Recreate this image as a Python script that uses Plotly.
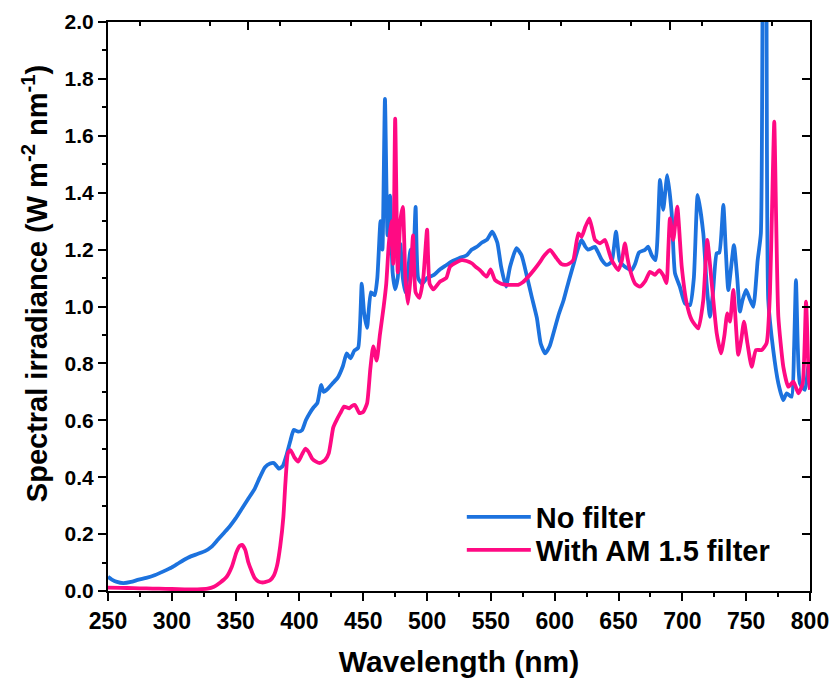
import plotly.graph_objects as go

# ---- data ----
nf_nm = [250, 253, 257, 262, 268, 274, 280, 287, 293, 300, 306, 313, 320, 326, 331, 336, 341, 345,
         350, 355, 360, 365, 369, 373, 377, 380, 384, 387, 390, 393, 395.5, 399, 402, 405, 408, 411,
         414, 417, 419, 422, 426, 430, 434, 437, 440, 443, 446, 448.8, 450.6, 453, 456, 459, 461,
         463.5, 465, 467, 469, 471, 473, 475, 477, 479, 481, 483, 485, 487, 489, 491, 493, 496, 500,
         505, 510, 515, 520, 525, 531, 535, 539, 543, 547, 551, 555, 558, 561.8, 565, 570, 574, 578,
         582, 586, 589, 592.5, 596, 599, 603, 607, 611, 615, 618, 621, 624, 626, 629, 631.5, 634, 637,
         640.7, 644.6, 648, 651, 655, 660.3, 663, 666, 670.7, 673.3, 676, 679, 682.5, 685, 688.2,
         691.6, 694.2, 698, 702, 706, 709, 712, 716.4, 719, 721.6, 724, 726.9, 729, 732.1, 734, 736,
         740.4, 743, 745.1, 747, 749.9, 752.5, 755.6, 759, 761.5, 763.5, 765.5, 767.3, 771.2, 775.2,
         779, 781.7, 785.6, 787.5, 789, 790.5, 792.1, 796.1, 798.7, 800]
nf_val = [0.05, 0.04, 0.032, 0.028, 0.032, 0.040, 0.046, 0.056, 0.068, 0.083, 0.10, 0.118, 0.13, 0.14,
          0.155, 0.18, 0.205, 0.225, 0.255, 0.29, 0.325, 0.36, 0.40, 0.435, 0.448, 0.45, 0.43, 0.44,
          0.48, 0.53, 0.566, 0.56, 0.565, 0.60, 0.625, 0.645, 0.66, 0.724, 0.70, 0.71, 0.73, 0.75, 0.79,
          0.835, 0.818, 0.845, 0.855, 1.08, 0.98, 0.925, 1.05, 1.04, 1.10, 1.30, 1.20, 1.73, 1.25, 1.39,
          1.12, 1.06, 1.10, 1.22, 1.10, 1.05, 1.12, 1.20, 1.15, 1.35, 1.10, 1.08, 1.10, 1.11, 1.13,
          1.145, 1.16, 1.17, 1.18, 1.20, 1.21, 1.225, 1.235, 1.263, 1.225, 1.14, 1.07, 1.14, 1.205,
          1.18, 1.11, 1.034, 0.96, 0.87, 0.835, 0.86, 0.906, 0.97, 1.023, 1.09, 1.152, 1.20, 1.234,
          1.21, 1.20, 1.205, 1.21, 1.19, 1.163, 1.146, 1.157, 1.263, 1.16, 1.14, 1.128, 1.15, 1.19,
          1.199, 1.21, 1.18, 1.163, 1.445, 1.34, 1.462, 1.33, 1.117, 1.07, 1.011, 1.005, 1.10, 1.392,
          1.257, 1.08, 0.964, 1.05, 1.187, 1.19, 1.357, 1.2, 1.058, 1.216, 1.10, 0.982, 1.02, 1.058,
          1.03, 0.999, 1.163, 1.257, 2.6, 2.4, 1.023, 0.847, 0.73, 0.671, 0.695, 0.683, 0.85, 1.093,
          0.85, 0.73, 0.707, 0.788, 0.80]

am_nm = [250, 260, 270, 280, 290, 300, 310, 320, 328, 333, 338, 343, 347, 350.5, 353, 355, 357.5, 360,
         362.5, 365, 368, 372, 377, 380, 382.5, 385, 387.4, 389, 391, 393, 396, 399, 402, 404.5, 407,
         410, 413, 416, 420, 423, 426.5, 429, 432, 435, 439, 441, 443.5, 447, 450, 453, 455.5, 457.8,
         460.5, 463, 466, 468, 470, 472, 473.5, 475, 477, 479, 481, 483, 485, 487, 489, 491, 494, 497,
         500, 502, 505, 510, 515, 518, 523, 527, 531, 535, 538, 541.4, 544, 546.7, 549.8, 553.2, 558,
         562.4, 567, 571.4, 575, 579.3, 584, 588.5, 592, 596.3, 601.5, 605, 608, 611, 614.5, 618.5,
         621.1, 624, 627.1, 629.5, 631.5, 635.5, 639.4, 642, 644.6, 649.8, 652.5, 655, 657, 659, 663,
         666.8, 671, 674.6, 678.5, 681.9, 685, 687.6, 689, 690.3, 692.9, 696, 699.5, 703.4, 707.3,
         712.5, 716.4, 719.5, 723, 726.9, 730.3, 733, 735.2, 737.3, 739.9, 743.8, 746, 748.3, 751,
         754.3, 757.7, 762.1, 766, 768.6, 770.3, 772, 773.5, 775.2, 779.1, 783, 787, 790.9, 794.3,
         796.9, 799, 800]
am_val = [0.012, 0.011, 0.010, 0.009, 0.008, 0.007, 0.006, 0.006, 0.008, 0.015, 0.03, 0.05, 0.085,
          0.135, 0.158, 0.162, 0.145, 0.10, 0.07, 0.045, 0.033, 0.03, 0.038, 0.055, 0.09, 0.16, 0.26,
          0.38, 0.485, 0.495, 0.47, 0.455, 0.48, 0.50, 0.49, 0.465, 0.455, 0.45, 0.46, 0.485, 0.575,
          0.60, 0.625, 0.648, 0.642, 0.65, 0.654, 0.625, 0.63, 0.66, 0.78, 0.86, 0.81, 0.90, 1.0, 1.08,
          1.22, 1.30, 1.15, 1.66, 1.12, 1.30, 1.35, 1.10, 1.01, 1.10, 1.25, 1.05, 1.03, 1.10, 1.27,
          1.08, 1.06, 1.087, 1.10, 1.14, 1.155, 1.163, 1.16, 1.152, 1.14, 1.128, 1.115, 1.105, 1.13,
          1.093, 1.08, 1.076, 1.076, 1.076, 1.085, 1.105, 1.13, 1.157, 1.18, 1.199, 1.169, 1.15, 1.146,
          1.15, 1.163, 1.257, 1.245, 1.28, 1.31, 1.27, 1.234, 1.222, 1.234, 1.2, 1.163, 1.128, 1.16,
          1.222, 1.17, 1.128, 1.08, 1.07, 1.09, 1.122, 1.111, 1.128, 1.11, 1.082, 1.2, 1.31, 1.234,
          1.351, 1.14, 1.011, 0.953, 0.923, 1.023, 1.234, 1.082, 0.906, 0.835, 0.9, 0.976, 0.947,
          1.058, 0.83, 0.88, 0.947, 0.87, 0.788, 0.847, 0.847, 0.871, 1.046, 1.35, 1.65, 1.3, 0.964,
          0.788, 0.718, 0.736, 0.695, 0.73, 1.017, 0.75, 0.707]

series_names = ["No filter", "With AM 1.5 filter"]
x_range = [250, 800]
y_range = [0, 2.0]

FONT = "Liberation Sans, Arial, sans-serif"
BLUE = "#1C72DE"
PINK = "#FF0A83"

fig = go.Figure()
fig.add_trace(go.Scatter(x=nf_nm, y=nf_val, mode="lines", name=series_names[0], legend="legend",
                         line=dict(color=BLUE, width=3.8, shape="spline", smoothing=0.5)))
fig.add_trace(go.Scatter(x=am_nm, y=am_val, mode="lines", name=series_names[1], legend="legend2",
                         line=dict(color=PINK, width=3.8, shape="spline", smoothing=0.5)))
# empty trace to carry the mirrored (top/right) tick axes
fig.add_trace(go.Scatter(x=[], y=[], xaxis="x2", yaxis="y2", showlegend=False, hoverinfo="skip"))

xtickfont = dict(family=FONT, size=23, color="black", weight="bold")
ytickfont = dict(family=FONT, size=21, color="black", weight="bold")
legfont = dict(family=FONT, size=29, color="black", weight="bold")

leg_common = dict(x=0.504, xanchor="left", yanchor="middle", font=legfont,
                  bgcolor="rgba(0,0,0,0)", itemwidth=64)

fig.update_layout(
    width=832, height=681,
    margin=dict(l=108, r=22, t=22, b=90, autoexpand=False),
    paper_bgcolor="white", plot_bgcolor="white",
    showlegend=True,
    legend=dict(y=0.130, **leg_common),
    legend2=dict(y=0.072, **leg_common),
    xaxis=dict(range=x_range, tick0=250, dtick=50, ticks="outside", ticklen=8, tickwidth=2,
               tickcolor="black", showline=True, linewidth=2, linecolor="black", mirror=True,
               showgrid=False, zeroline=False, tickfont=xtickfont, automargin=False,
               minor=dict(dtick=25, ticks="outside", ticklen=4, tickwidth=2, tickcolor="black"),
               title=dict(text="Wavelength (nm)",
                          font=dict(family=FONT, size=30, color="black", weight="bold"),
                          standoff=18)),
    yaxis=dict(range=y_range, tick0=0, dtick=0.2, tickformat=".1f", ticks="outside", ticklen=8,
               tickwidth=2, tickcolor="black", showline=True, linewidth=2, linecolor="black",
               mirror=True, showgrid=False, zeroline=False, tickfont=ytickfont, automargin=False,
               minor=dict(dtick=0.1, ticks="outside", ticklen=4, tickwidth=2, tickcolor="black")),
    xaxis2=dict(range=x_range, overlaying="x", side="top", anchor="y", tick0=250, dtick=110,
                ticks="inside", ticklen=8, tickwidth=2, tickcolor="black", showticklabels=False,
                showgrid=False, zeroline=False, showline=False, automargin=False,
                minor=dict(dtick=55, ticks="inside", ticklen=4, tickwidth=2, tickcolor="black")),
    yaxis2=dict(range=y_range, overlaying="y", side="right", anchor="x", tick0=0, dtick=0.2,
                ticks="inside", ticklen=8, tickwidth=2, tickcolor="black", showticklabels=False,
                showgrid=False, zeroline=False, showline=False, automargin=False),
    annotations=[dict(text="Spectral irradiance (W m<sup>-2</sup> nm<sup>-1</sup>)",
                      textangle=-90, xref="paper", yref="paper", x=-0.104, y=0.541,
                      xanchor="center", yanchor="middle", showarrow=False,
                      font=dict(family=FONT, size=29, color="black", weight="bold"))],
)

fig.write_html("out.html")
